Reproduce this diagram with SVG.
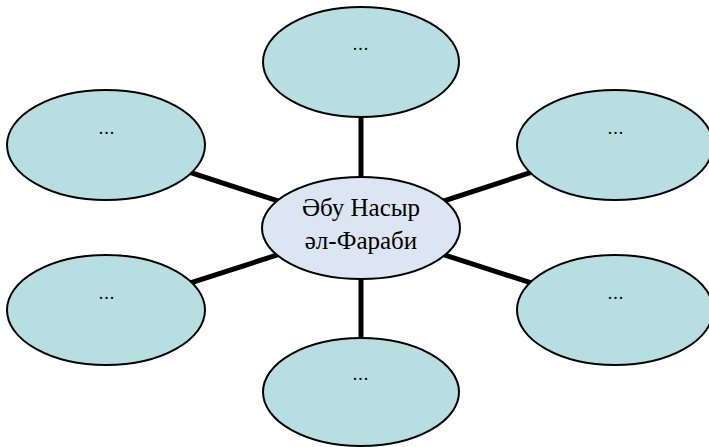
<svg xmlns="http://www.w3.org/2000/svg" width="709" height="447" viewBox="0 0 709 447">
<style>
.conn{stroke:#000;stroke-width:5;fill:none}
.leaf{fill:#B7DFE2;stroke:#000;stroke-width:2}
.hub{fill:#DCE6F2;stroke:#000;stroke-width:2}
.dots{font-family:"Liberation Serif","Times New Roman",serif;font-size:18px;fill:#000;text-anchor:middle;letter-spacing:1px}
.main{font-family:"Liberation Serif","Times New Roman",serif;font-size:25px;fill:#000;text-anchor:middle}
</style>
<rect width="709" height="447" fill="#fff"/>
<g id="connectors">
<line class="conn" x1="361" y1="62" x2="361" y2="228"/>
<line class="conn" x1="361" y1="228" x2="361" y2="392"/>
<line class="conn" x1="106" y1="145" x2="361" y2="228"/>
<line class="conn" x1="106" y1="310" x2="361" y2="228"/>
<line class="conn" x1="615" y1="145" x2="361" y2="228"/>
<line class="conn" x1="615" y1="310" x2="361" y2="228"/>
</g>
<g id="node-top">
<ellipse class="leaf" cx="361" cy="62" rx="98" ry="55"/>
<text class="dots" x="361" y="50">...</text>
</g>
<g id="node-left-top">
<ellipse class="leaf" cx="106" cy="145" rx="99" ry="55"/>
<text class="dots" x="107" y="134">...</text>
</g>
<g id="node-right-top">
<ellipse class="leaf" cx="615" cy="145" rx="98" ry="55"/>
<text class="dots" x="616" y="134">...</text>
</g>
<g id="node-left-bottom">
<ellipse class="leaf" cx="106" cy="310" rx="99" ry="55"/>
<text class="dots" x="107" y="299">...</text>
</g>
<g id="node-right-bottom">
<ellipse class="leaf" cx="615" cy="310" rx="98" ry="55"/>
<text class="dots" x="616" y="299">...</text>
</g>
<g id="node-bottom">
<ellipse class="leaf" cx="361" cy="392" rx="98" ry="54"/>
<text class="dots" x="361" y="380">...</text>
</g>
<g id="node-center">
<ellipse class="hub" cx="361" cy="228" rx="99" ry="51"/>
<text class="main" x="361" y="216">Әбу Насыр</text>
<text class="main" x="361" y="249">әл-Фараби</text>
</g>
</svg>
